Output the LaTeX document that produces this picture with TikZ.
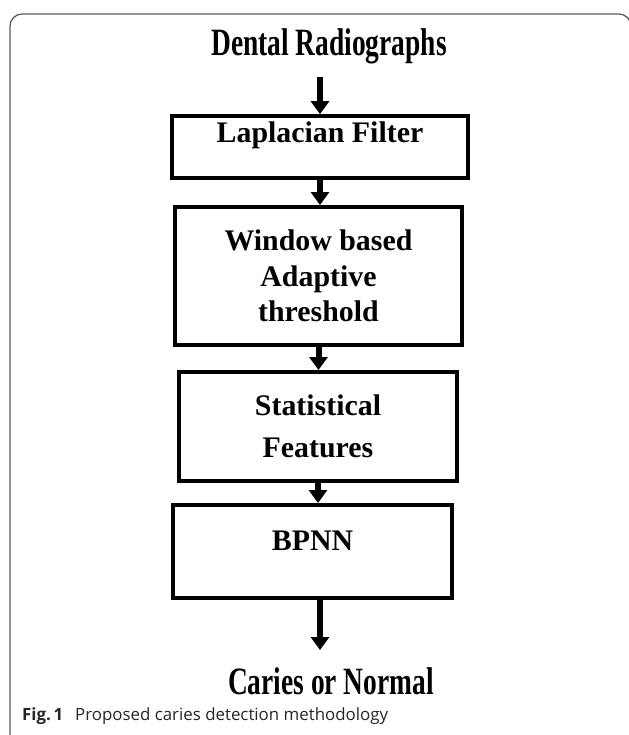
\documentclass[tikz,border=0pt]{standalone}
\usepackage{fontspec}
\setmainfont{Liberation Serif}
\newfontfamily\captionsans{Open Sans}
\usetikzlibrary{positioning}
\usetikzlibrary{calc, arrows.meta}

\tikzset{
    stagebox/.style={draw, line width=0.08cm, align=center,
        font=\fontsize{17}{20.2}\selectfont\bfseries},
    flow/.style={line width=0.12cm, -{Triangle[length=0.26cm, width=0.36cm]}},
    headline/.style={font=\fontsize{22}{26}\selectfont\bfseries, xscale=0.71, inner sep=0pt},
}

\begin{document}
\begin{tikzpicture}[x=0.02cm, y=-0.02cm]
    \useasboundingbox (0,0) rectangle (629,735);

    % Frame
    \draw[black!65, line width=0.025cm, rounded corners=0.24cm] (10,735) -- (10,14) -- (631,14) -- (631,735);

    % Input and output
    \node[headline] (input) at (329,46) {Dental Radiographs};
    \node[headline] (output) at (331,681) {Caries or Normal};

    % Stages
    \node[stagebox, minimum width=5.92cm, minimum height=1.2cm, text height=0.4cm, text depth=0.6cm]
        (laplace) at (320,147) {Laplacian Filter};
    \node[stagebox, minimum width=5.74cm, minimum height=2.76cm]
        (window) at (318.5,276) {Window based\\Adaptive\\threshold};
    \node[stagebox, minimum width=5.56cm, minimum height=2.18cm]
        (stats) at (318,426.5) {Statistical\\[0.12cm]Features};
    \node[stagebox, minimum width=5.58cm, minimum height=1.86cm, text height=0.4cm, text depth=0.46cm]
        (bpnn) at (312.5,551.5) {BPNN};

    % Arrows
    \coordinate (result) at (320,650);
    \draw[flow] (laplace.north |- input.south) ++(0,13) coordinate (start) -- (start |- laplace.north);
    \draw[flow] (laplace.south) -- (laplace.south |- window.north);
    \draw[flow] (window.south) -- (window.south |- stats.north);
    \draw[flow] (stats.south) -- (stats.south |- bpnn.north);
    \draw[flow] (bpnn.south -| result) -- (result);

    % Caption
    \node[anchor=west, text=black!85, font=\captionsans\fontsize{9.6}{11}\selectfont] (caption) at (16,716)
        {\textbf{Fig.\,1}\hspace{0.7em}Proposed caries detection methodology};
\end{tikzpicture}
\end{document}
